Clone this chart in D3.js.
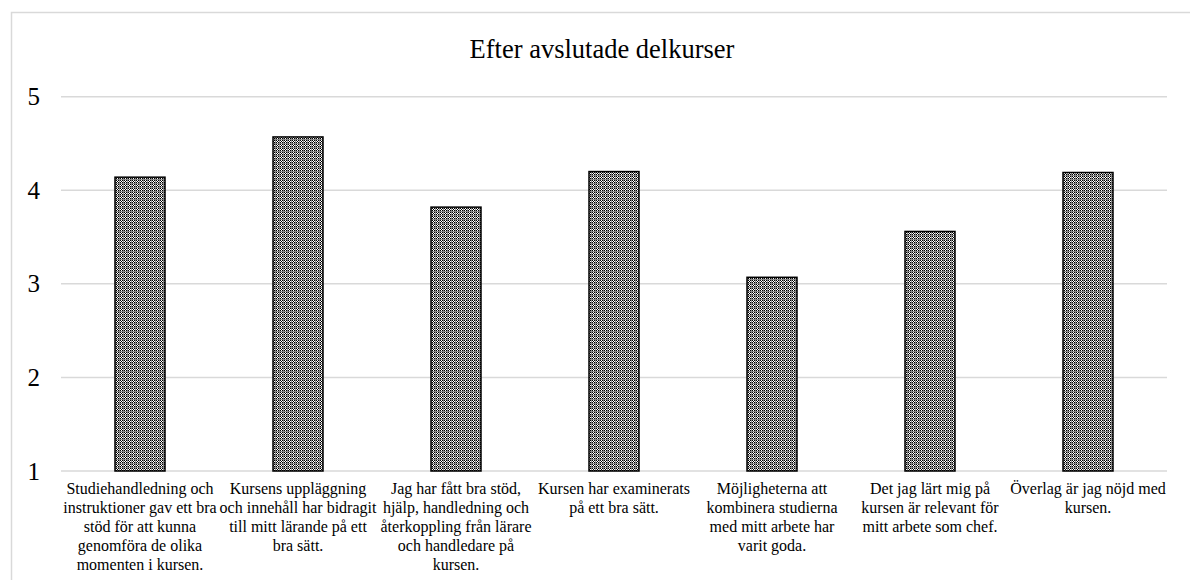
<!DOCTYPE html>
<html lang="sv">
<head>
    <meta charset="UTF-8">
    <title>Efter avslutade delkurser</title>
    <script src="https://d3js.org/d3.v7.min.js"></script>
    <style>
        body { margin: 0; background: #fff; font-family: "Liberation Serif", "Times New Roman", serif; }
        svg text { fill: #000; }
    </style>
</head>
<body>
    <div id="chart"></div>
    <script>
        // line breaks as in the original axis labels
        const categories = [
            "Studiehandledning och\ninstruktioner gav ett bra\nstöd för att kunna\ngenomföra de olika\nmomenten i kursen.",
            "Kursens uppläggning\noch innehåll har bidragit\ntill mitt lärande på ett\nbra sätt.",
            "Jag har fått bra stöd,\nhjälp, handledning och\nåterkoppling från lärare\noch handledare på\nkursen.",
            "Kursen har examinerats\npå ett bra sätt.",
            "Möjligheterna att\nkombinera studierna\nmed mitt arbete har\nvarit goda.",
            "Det jag lärt mig på\nkursen är relevant för\nmitt arbete som chef.",
            "Överlag är jag nöjd med\nkursen."
        ];
        const values = [4.14, 4.57, 3.82, 4.20, 3.07, 3.56, 4.19];
        const yTicks = [1, 2, 3, 4, 5];

        const W = 1190, H = 580;
        const plot = { left: 61, right: 1167, top: 96.7, bottom: 471 };

        const svg = d3.select("#chart").append("svg")
            .attr("width", W)
            .attr("height", H);

        // checkerboard fill like the excel pattern
        const pat = svg.append("defs").append("pattern")
            .attr("id", "checker")
            .attr("patternUnits", "userSpaceOnUse")
            .attr("width", 4).attr("height", 4);
        pat.append("rect").attr("width", 4).attr("height", 4).attr("fill", "#fff");
        [[0, 0], [2, 0], [1, 1], [0, 2], [2, 2], [1, 3]].forEach(p => {
            pat.append("rect").attr("x", p[0]).attr("y", p[1]).attr("width", 1).attr("height", 1).attr("fill", "#000");
        });
        pat.append("rect").attr("x", 3).attr("y", 0).attr("width", 1).attr("height", 4).attr("fill", "#888");
        pat.append("rect").attr("x", 0).attr("y", 3).attr("width", 4).attr("height", 1).attr("fill", "#888");

        // chart area border
        svg.append("rect")
            .attr("x", 11.5).attr("y", 12.5)
            .attr("width", 1200).attr("height", 600)
            .attr("fill", "none")
            .attr("stroke", "#d9d9d9")
            .attr("stroke-width", 1.5);

        const x = d3.scaleBand()
            .domain(categories)
            .range([plot.left, plot.right])
            .paddingInner(0)
            .paddingOuter(0);

        const y = d3.scaleLinear()
            .domain([1, 5])
            .range([plot.bottom, plot.top]);

        // gridlines
        svg.append("g")
            .selectAll("line")
            .data(yTicks)
            .enter().append("line")
            .attr("x1", plot.left).attr("x2", plot.right)
            .attr("y1", d => y(d)).attr("y2", d => y(d))
            .attr("stroke", "#d9d9d9")
            .attr("stroke-width", 1.5);

        // y labels
        svg.append("g")
            .selectAll("text")
            .data(yTicks)
            .enter().append("text")
            .attr("x", 40)
            .attr("y", d => y(d))
            .attr("dy", "0.34em")
            .attr("text-anchor", "end")
            .style("font-size", "25px")
            .text(d => d);

        const barW = 50;
        svg.append("g")
            .selectAll("rect")
            .data(values)
            .enter().append("rect")
            .attr("x", (d, i) => x(categories[i]) + x.bandwidth() / 2 - barW / 2)
            .attr("y", d => y(d))
            .attr("width", barW)
            .attr("height", d => y(1) - y(d))
            .attr("fill", "url(#checker)")
            .attr("stroke", "#000")
            .attr("stroke-width", 1.5);

        // category labels
        const lineH = 19;
        svg.append("g")
            .selectAll("text")
            .data(categories)
            .enter().append("text")
            .attr("text-anchor", "middle")
            .style("font-size", "16px")
            .attr("y", 494)
            .each(function(d) {
                const cx = x(d) + x.bandwidth() / 2;
                d3.select(this).selectAll("tspan")
                    .data(d.split("\n"))
                    .enter().append("tspan")
                    .attr("x", cx)
                    .attr("dy", (s, i) => i === 0 ? 0 : lineH)
                    .text(s => s);
            });

        svg.append("text")
            .attr("x", 602)
            .attr("y", 58)
            .attr("text-anchor", "middle")
            .style("font-size", "26.5px")
            .text("Efter avslutade delkurser");
    </script>
</body>
</html>
